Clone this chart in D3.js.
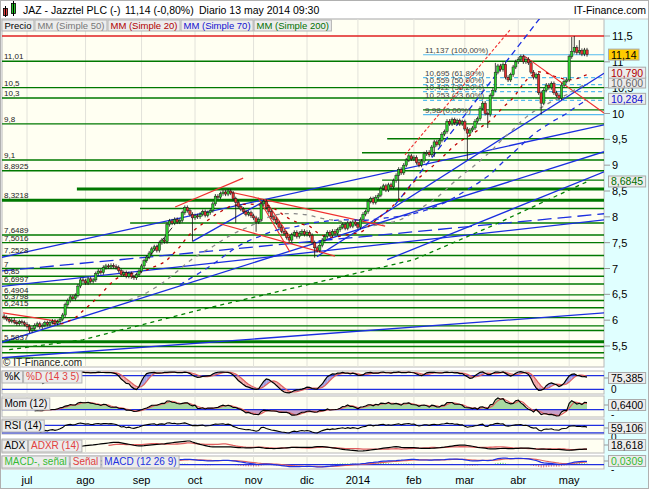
<!DOCTYPE html>
<html><head><meta charset="utf-8">
<script src="https://cdn.jsdelivr.net/npm/d3@7"></script>
<style>body{margin:0;background:#fff}svg{display:block;font-family:"Liberation Sans",Arial,sans-serif}</style>
</head><body><svg id="c" width="650" height="490"></svg>
<script>
// ---------------- DATA ----------------
const firstDay = "2013-06-18", lastDay = "2014-05-13";
const holidays = ["2013-12-25","2013-12-26","2014-01-01","2014-04-18","2014-04-21","2014-05-01"];
const monthLabels = ["jul","ago","sep","oct","nov","dic","2014","feb","mar","abr","may"];
const firstOpen = 6.08;
const closes = [
 6.05,6.02,5.98,6.00,5.96,5.93,5.97,5.95,5.92,
 5.88,5.80,5.84,5.90,5.93,5.87,5.90,5.95,5.92,5.96,5.98,5.94,5.97,
 6.02,6.10,6.30, 6.38,6.45,6.42,6.48, 6.66,6.78, 6.76,6.72,6.80,6.75,6.78,
 6.90,6.95,6.92, 7.02,7.05,7.03,7.06,7.04,7.02, 6.96,6.88,6.92,6.85,6.90,6.84,
 6.82,6.88,6.95, 7.05,7.15,7.22, 7.30,7.38,7.42,7.35, 7.50,7.55,7.52,
 7.85,7.92,7.88,7.95,7.90,7.93, 8.08,8.18,8.12, 8.05,7.98,8.02,8.00,
 8.05,8.10,8.03,8.08,8.12, 8.25,8.40,8.38, 8.45,8.48,8.44,8.50,8.46,
 8.35,8.28,8.20, 8.15,8.10,8.05,8.08,8.02, 7.98,7.90,7.95, 8.25,8.30,
 8.18,8.10,8.00,7.95,7.88, 7.80,7.72,7.68,7.60,7.55, 7.65,7.70,7.62,7.68,
 7.72,7.66,7.70,7.64, 7.50,7.40,7.35,7.45, 7.55,7.62,7.70,7.65,7.72,7.68,7.75,
 7.80,7.85,7.78,7.88,7.82,7.90,7.86,7.80, 7.95,8.05,8.10, 8.30,8.35,8.28,8.38,8.42,
 8.55,8.60,8.52,8.62,8.58, 8.70,8.80,8.92,8.85,9.00, 9.10,9.18,9.12,9.15,
 9.05,9.00,9.08, 9.22,9.25,9.20, 9.35,9.45,9.40,9.48, 9.60,9.65,
 9.85,9.80,9.88,9.82,9.86,9.80,9.84, 9.70,9.62,9.68,9.72, 9.85,9.90, 10.10,10.20,
 10.00,9.98, 10.35,10.45, 10.80,10.92,10.85,10.95, 10.70,10.65,10.75,
 10.90,11.00,11.05, 11.10,11.00,11.05,10.98, 10.80,10.70,10.75, 10.40,10.20,
 10.45,10.55,10.50,10.58, 10.40,10.35,10.30, 10.55,10.62,10.65, 11.10,
 11.20,11.28,11.18,11.22,11.15,11.23,11.14
];
const wick = 0.04;
const longLows  = [[10,5.75],[74,7.52],[91,7.88],[99,7.71],[122,7.21],[155,8.33],[169,9.16],[182,9.10],[190,9.72],[211,9.98]];
const longHighs = [[193,10.98],[223,11.48],[224,11.50],[226,11.42]];
// moving average 200 [dayIndex, price]
const mm200 = [[2,5.43],[31,5.62],[77,6.20],[116,6.65],[161,7.17],[191,7.81],[229,8.68]];
// support / resistance levels
const levels     = [11.01,10.5,10.3,10.07,9.8,9.51,9.24,9.1,8.8925,8.71,8.54,8.3218,8.16,7.88,7.6489,7.5016,7.2528,7,6.85,6.6997,6.4904,6.3798,6.2415,6.05,5.89,5.8,5.5837,5.49,5.37,5.27];
const levelLbl   = ["11,01","10,5","10,3","","9,8","","","9,1","8,8925","","","8,3218","","","7,6489","7,5016","7,2528","7","6,85","6,6997","6,4904","6,3798","6,2415","","","","5,5837","","",""];
const levelFrom  = [0,0,0,164.6,0,150.5,140.6,0,0,148.5,28.6,0,53.4,49.5,0,0,0,0,0,0,0,0,0,0,0,0,0,0,0,0];
const thickLevels = [8.54,8.3218,5.5837];
// fibonacci retracement
const fibValues = [11.137,10.695,10.559,10.422,10.253,9.98];
const fibLabels = ["11,137 (100,00%)","10,695 (61,80%)","10,559 (50,00%)","10,422 (38,20%)","10,253 (23,60%)","9,98 (0,00%)"];
const fibFrom = 164.6;
// trend lines [day1, price1, day2, price2]
const blueLines = [[-1.6,7.21,235.7,9.78],[-1.6,5.56,235.7,9.26],[122.9,7.23,235.7,10.78],[-1.6,5.27,235.7,6.14],[74.2,7.53,101.7,8.29],[150.5,7.17,235.7,8.87],[-1.6,6.65,235.7,7.94]];
const blueDashLines = [[153.6,8.23,210.6,11.85]];
const blueLongDash = [[-1.6,6.95,235.7,8.06]];
const redLines = [[-0.4,6.14,22,5.97],[67.2,8.19,93.9,8.75],[88.8,8.48,149.7,7.82],[83.7,7.88,130,7.24],[99.8,8.37,112.3,7.32],[102.5,8.33,113.1,7.55],[203.9,11.13,235.7,10.01]];
const redDashLines = [[157.5,9.20,198.8,11.62]];
const blackLines = [[55.4,7.13,66,7.79]];
// axis
const priceTicks = [11.5,11,10.5,10,9.5,9,8.5,8,7.5,7,6.5,6,5.5];
const priceTickLbl = ["11,5","11","10,5","10","9,5","9","8,5","8","7,5","7","6,5","6","5,5"];
const topLevel = 11.5;
// last values
const lastPrice = 11.14, lastPriceLbl = "11,14";
const maLast = [10.79,10.60,10.284,8.6845];
const maLastLbl = ["10,790","10,600","10,284","8,6845"];
const indLastLbl = ["75,385","0,6400","59,106","18,618","0,0309"];
const legendItems = ["Precio","MM (Simple 50)","MM (Simple 20)","MM (Simple 70)","MM (Simple 200)"];

// ---------------- SETUP ----------------
const svg = d3.select("#c");
const fmt = d3.timeFormat("%Y-%m-%d");
const dates = [];
for (let d = new Date(firstDay+"T12:00:00"); d <= new Date(lastDay+"T12:00:00"); d.setDate(d.getDate()+1)) {
  const w = d.getDay();
  if (w !== 0 && w !== 6 && !holidays.includes(fmt(d))) dates.push(new Date(d));
}
const n = closes.length;
const opens = closes.map((c,i)=> i===0 ? firstOpen : closes[i-1]);
const highs = closes.map((c,i)=> Math.max(opens[i],c)+wick);
const lows  = closes.map((c,i)=> Math.min(opens[i],c)-wick);
longLows.forEach(([k,v])=> lows[k]=v);
longHighs.forEach(([k,v])=> highs[k]=v);

const L=2, R=604, T=19, B=367;
const x = d3.scaleLinear().domain([0,229]).range([4.1,587]);
const y = d3.scaleLinear().domain([5.5,11.5]).range([346,36]);

// backgrounds
svg.append("rect").attr("width",650).attr("height",490).attr("fill","#fff");
svg.append("rect").attr("x",R).attr("y",T).attr("width",44).attr("height",470-T).attr("fill","#e0ffff");
svg.append("rect").attr("x",1).attr("y",470).attr("width",647).attr("height",18).attr("fill","#e0ffff");
const panels = [[371,394],[396,417],[419,434],[439,453],[456,469]];
svg.append("rect").attr("x",L).attr("y",T).attr("width",R-L).attr("height",B-T).attr("fill","#fffff2").attr("stroke","#b8b8b8");
panels.forEach(([a,b])=> svg.append("rect").attr("x",L).attr("y",a).attr("width",R-L).attr("height",b-a).attr("fill","#fffff2").attr("stroke","#b8b8b8"));
svg.append("rect").attr("x",0.5).attr("y",0.5).attr("width",648).attr("height",488).attr("fill","none").attr("stroke","#b0b0b0");
svg.append("line").attr("x1",1).attr("x2",648).attr("y1",T).attr("y2",T).attr("stroke","#c8c8c8");

const defs = svg.append("defs");
defs.append("clipPath").attr("id","cm").append("rect").attr("x",L).attr("y",T).attr("width",R-L).attr("height",B-T);
panels.forEach(([a,b],i)=> defs.append("clipPath").attr("id","cp"+i).append("rect").attr("x",L).attr("y",a).attr("width",R-L).attr("height",b-a));

// month grid
const monthStarts = [];
dates.forEach((d,i)=>{ if (i>0 && d.getMonth()!==dates[i-1].getMonth()) monthStarts.push(i); });
const grid = svg.append("g");
monthStarts.forEach(k=>{
  grid.append("line").attr("x1",x(k)).attr("x2",x(k)).attr("y1",T).attr("y2",B).attr("stroke","#e2e2da");
  panels.forEach(([a,b])=> grid.append("line").attr("x1",x(k)).attr("x2",x(k)).attr("y1",a).attr("y2",b).attr("stroke","#e2e2da"));
});
const mlab = svg.append("g").attr("font-size",11).attr("fill","#000").attr("text-anchor","middle");
monthStarts.forEach((k,i)=> mlab.append("text").attr("x",x(k)).attr("y",484).text(monthLabels[i]));

// ---------------- MAIN PANEL ----------------
const gm = svg.append("g").attr("clip-path","url(#cm)");
levels.forEach((v,i)=>{
  gm.append("line").attr("x1",levelFrom[i]===0?L:x(levelFrom[i])).attr("x2",R).attr("y1",y(v)).attr("y2",y(v))
    .attr("stroke","#007800").attr("stroke-width",thickLevels.includes(v)?3:1.4);
});
gm.append("line").attr("x1",L).attr("x2",R).attr("y1",y(topLevel)).attr("y2",y(topLevel)).attr("stroke","#e02020").attr("stroke-width",1.3);
fibValues.forEach((v,i)=>{
  const solid = i===0 || i===fibValues.length-1;
  gm.append("line").attr("x1",x(fibFrom)).attr("x2",R).attr("y1",y(v)).attr("y2",y(v))
    .attr("stroke","#55bbee").attr("stroke-width",1.2).attr("stroke-dasharray",solid?null:"4,3");
});
function drawSegs(list, color, width, dash){
  list.forEach(s=> gm.append("line").attr("x1",x(s[0])).attr("y1",y(s[1])).attr("x2",x(s[2])).attr("y2",y(s[3]))
    .attr("stroke",color).attr("stroke-width",width).attr("stroke-dasharray",dash));
}
drawSegs(blueLines,"#1a2ee0",1.3,null);
drawSegs(blueLongDash,"#1a2ee0",1.3,"14,6");
drawSegs(blueDashLines,"#1a2ee0",1.3,"6,4");
drawSegs(redLines,"#f03030",1.2,null);
drawSegs(redDashLines,"#f03030",1.1,"3,2");
drawSegs(blackLines,"#222",1,null);

// moving averages
function sma(arr,p){ return arr.map((v,i)=>{ if(i<p-1) return null; let s=0; for(let j=i-p+1;j<=i;j++){ if(arr[j]==null) return null; s+=arr[j]; } return s/p; }); }
const mm20 = sma(closes,20), mm50 = sma(closes,50), mm70 = sma(closes,70);
const ln = d3.line().defined(d=>d[1]!=null).x(d=>x(d[0])).y(d=>y(d[1]));
const toPts = a => a.map((v,i)=>[i,v]);
gm.append("path").attr("d",ln(mm200)).attr("fill","none").attr("stroke","#008000").attr("stroke-width",1.3).attr("stroke-dasharray","4,4");
gm.append("path").attr("d",ln(toPts(mm70))).attr("fill","none").attr("stroke","#2030e0").attr("stroke-width",1.3).attr("stroke-dasharray","5,5");
gm.append("path").attr("d",ln(toPts(mm50))).attr("fill","none").attr("stroke","#8a8a8a").attr("stroke-width",1.3).attr("stroke-dasharray","4,5");
gm.append("path").attr("d",ln(toPts(mm20))).attr("fill","none").attr("stroke","#c00000").attr("stroke-width",1.3).attr("stroke-dasharray","3,5");

// candles
const cg = gm.append("g");
closes.forEach((c,i)=>{
  const o = opens[i], up = c>=o, cx = x(i);
  cg.append("line").attr("x1",cx).attr("x2",cx).attr("y1",y(highs[i])).attr("y2",y(lows[i])).attr("stroke","#111").attr("stroke-width",0.8);
  const top = y(Math.max(o,c)), h = Math.max(1, y(Math.min(o,c))-top);
  cg.append("rect").attr("x",cx-1.2).attr("y",top).attr("width",2.4).attr("height",h)
    .attr("fill",up?"#2ecc2e":"#e03030").attr("stroke","#111").attr("stroke-width",0.45);
});

// level labels
const ll = svg.append("g").attr("font-size",8).attr("fill","#222");
levels.forEach((v,i)=>{ if(levelLbl[i]) ll.append("text").attr("x",4).attr("y",y(v)-2).text(levelLbl[i]); });
const fl = svg.append("g").attr("font-size",8).attr("fill","#444");
fibValues.forEach((v,i)=> fl.append("text").attr("x",x(fibFrom)+2).attr("y",y(v)-2).text(fibLabels[i]));
svg.append("text").attr("x",3).attr("y",366).attr("font-size",10).attr("fill","#222").text("© IT-Finance.com");

// ---------------- INDICATORS ----------------
const rawK = closes.map((c,i)=>{ if(i<13) return null; const hh=d3.max(highs.slice(i-13,i+1)), lo=d3.min(lows.slice(i-13,i+1)); return 100*(c-lo)/(hh-lo); });
const K = sma(rawK,3), D = sma(K,5);
const mom = closes.map((c,i)=> i<12?null:c-closes[i-12]);
const momSig = sma(mom,3);
const rsi = new Array(n).fill(null);
{ let ag=0, al=0; for(let i=1;i<n;i++){ const ch=closes[i]-closes[i-1], g=Math.max(ch,0), l=Math.max(-ch,0);
  if(i<=14){ ag+=g/14; al+=l/14; if(i===14) rsi[i]=100-100/(1+ag/al); }
  else { ag=(ag*13+g)/14; al=(al*13+l)/14; rsi[i]=100-100/(1+ag/(al||1e-9)); } } }
const adx = new Array(n).fill(null), adxr = new Array(n).fill(null);
{ let tr14=0,p14=0,m14=0,ax=null; const dx=[];
  for(let i=1;i<n;i++){
    const tr=Math.max(highs[i]-lows[i],Math.abs(highs[i]-closes[i-1]),Math.abs(lows[i]-closes[i-1]));
    const up=highs[i]-highs[i-1], dn=lows[i-1]-lows[i];
    const pdm=(up>dn&&up>0)?up:0, mdm=(dn>up&&dn>0)?dn:0;
    if(i<=14){ tr14+=tr; p14+=pdm; m14+=mdm; } else { tr14=tr14-tr14/14+tr; p14=p14-p14/14+pdm; m14=m14-m14/14+mdm; }
    if(i>=14){ const pdi=100*p14/tr14, mdi=100*m14/tr14; const v=100*Math.abs(pdi-mdi)/(pdi+mdi||1e-9); dx.push(v);
      if(dx.length===14){ ax=d3.mean(dx); adx[i]=ax; } else if(dx.length>14){ ax=(ax*13+v)/14; adx[i]=ax; } }
  }
  for(let i=14;i<n;i++) if(adx[i]!=null&&adx[i-14]!=null) adxr[i]=(adx[i]+adx[i-14])/2;
}
function ema(arr,p){ const k=2/(p+1); let e=null; return arr.map((v,i)=>{ if(v==null) return null; e = e==null? v : v*k+e*(1-k); return e; }); }
const e12=ema(closes,12), e26=ema(closes,26);
const macd = closes.map((c,i)=> i<25?null:e12[i]-e26[i]);
const sig = ema(macd,9).map((v,i)=> i<33?null:v);
const hist = macd.map((v,i)=> sig[i]==null?null:v-sig[i]);

function panelLine(g, ys, arr, color, w){
  g.append("path").attr("d", d3.line().defined(d=>d[1]!=null).x(d=>x(d[0])).y(d=>ys(d[1]))(toPts(arr)))
   .attr("fill","none").attr("stroke",color).attr("stroke-width",w||1.2);
}
{ const [a,b]=panels[0]; const ys=d3.scaleLinear().domain([0,100]).range([b,a]); const g=svg.append("g").attr("clip-path","url(#cp0)");
  for(let i=0;i<n-1;i++){ if(K[i]==null||D[i]==null||K[i+1]==null||D[i+1]==null) continue;
    g.append("path").attr("d",`M${x(i)},${ys(K[i])}L${x(i+1)},${ys(K[i+1])}L${x(i+1)},${ys(D[i+1])}L${x(i)},${ys(D[i])}Z`)
     .attr("fill",K[i]>=D[i]?"#a0a0e8":"#f0a8a8"); }
  [80,20].forEach(v=> g.append("line").attr("x1",L).attr("x2",R).attr("y1",ys(v)).attr("y2",ys(v)).attr("stroke","#2030e0").attr("stroke-width",1.3));
  panelLine(g,ys,D,"#e06060",1.2); panelLine(g,ys,K,"#000",1.2);
}
{ const [a,b]=panels[1]; const ext=d3.extent(mom.filter(v=>v!=null)); const ys=d3.scaleLinear().domain(ext).range([b-1,a+2]); const g=svg.append("g").attr("clip-path","url(#cp1)");
  const ar = d3.area().defined(d=>d[1]!=null).x(d=>x(d[0])).y0(ys(0));
  g.append("path").attr("d",ar.y1(d=>ys(Math.max(d[1],0)))(toPts(mom))).attr("fill","#a8d8a0");
  g.append("path").attr("d",ar.y1(d=>ys(Math.min(d[1],0)))(toPts(mom))).attr("fill","#c8a0c8");
  g.append("line").attr("x1",L).attr("x2",R).attr("y1",ys(0)).attr("y2",ys(0)).attr("stroke","#2030e0").attr("stroke-width",1.3);
  panelLine(g,ys,momSig,"#e06060",1.2); panelLine(g,ys,mom,"#000",1.1);
}
{ const [a,b]=panels[2]; const ys=d3.scaleLinear().domain([24,104]).range([b,a]); const g=svg.append("g").attr("clip-path","url(#cp2)");
  [70,30].forEach(v=> g.append("line").attr("x1",L).attr("x2",R).attr("y1",ys(v)).attr("y2",ys(v)).attr("stroke","#2030e0").attr("stroke-width",1.3));
  panelLine(g,ys,rsi,"#000",1.1);
}
{ const [a,b]=panels[3]; const ext=d3.extent(adx.filter(v=>v!=null)); const ys=d3.scaleLinear().domain(ext).range([b-2,a+2]); const g=svg.append("g").attr("clip-path","url(#cp3)");
  panelLine(g,ys,adxr,"#e06060",1.3); panelLine(g,ys,adx,"#000",1.2);
}
{ const [a,b]=panels[4]; const vals=macd.concat(sig).filter(v=>v!=null).concat([0]); const ys=d3.scaleLinear().domain(d3.extent(vals)).range([b-2,a+2]); const g=svg.append("g").attr("clip-path","url(#cp4)");
  const hs = d3.scaleLinear().domain([0,d3.max(hist,v=>v==null?0:Math.abs(v))]).range([0,3]);
  hist.forEach((v,i)=>{ if(v==null) return; g.append("line").attr("x1",x(i)).attr("x2",x(i)).attr("y1",ys(0)).attr("y2",ys(0)-(v>=0?1:-1)*hs(Math.abs(v))).attr("stroke",v>=0?"#33cc33":"#e05050").attr("stroke-width",0.8); });
  g.append("line").attr("x1",L).attr("x2",R).attr("y1",ys(0)).attr("y2",ys(0)).attr("stroke","#2030e0").attr("stroke-width",1.3);
  panelLine(g,ys,sig,"#e06060",1.2); panelLine(g,ys,macd,"#2030e0",1.2);
}

function labelBox(xx, yy, txt, color, fs, h){
  const g = svg.append("g");
  const t = g.append("text").attr("x",xx+2.5).attr("y",yy+9).attr("font-size",fs||10).attr("fill",color).text(txt);
  const w = t.node().getComputedTextLength();
  g.insert("rect","text").attr("x",xx).attr("y",yy).attr("width",w+5).attr("height",h||12).attr("fill","#ececec").attr("stroke","#b4b4b4");
  return xx+w+6;
}
{ let xx=labelBox(L,371,"%K","#000"); labelBox(xx,371,"%D (14 3 5)","#e04040"); }
labelBox(L,398,"Mom (12)","#000");
labelBox(L,420,"RSI (14)","#000");
{ let xx=labelBox(L,440,"ADX","#000"); labelBox(xx,440,"ADXR (14)","#e04040"); }
{ let xx=labelBox(L,456,"MACD-, señal","#33bb33"); xx=labelBox(xx,456,"Señal","#e04040"); labelBox(xx,456,"MACD (12 26 9)","#2030e0"); }

// legend
{ const cols=["#000","#777","#b00000","#1010d0","#007000"]; let xx=L;
  legendItems.forEach((t,i)=>{ xx = labelBox(xx,20,t,cols[i],9.5,11); });
}

// header
svg.append("g").call(g=>{
  g.append("rect").attr("x",3.5).attr("y",8.5).attr("width",4).attr("height",7).attr("fill","#e04040").attr("stroke","#000").attr("stroke-width",0.8);
  g.append("line").attr("x1",5.5).attr("x2",5.5).attr("y1",6).attr("y2",17).attr("stroke","#000");
  g.append("rect").attr("x",11.5).attr("y",3.5).attr("width",4).attr("height",10).attr("fill","#22cc22").attr("stroke","#000").attr("stroke-width",0.8);
  g.append("line").attr("x1",13.5).attr("x2",13.5).attr("y1",1).attr("y2",16).attr("stroke","#000");
});
svg.append("text").attr("x",23).attr("y",14).attr("font-size",10.5).text("JAZ - Jazztel PLC (-)");
svg.append("text").attr("x",125).attr("y",14).attr("font-size",10.5).text("11,14 (-0,80%)");
svg.append("text").attr("x",199).attr("y",14).attr("font-size",10.5).text("Diario  13 may 2014 09:30");
svg.append("text").attr("x",646).attr("y",14).attr("font-size",10.5).attr("text-anchor","end").text("IT-Finance.com");

// right axis
const ax = svg.append("g").attr("font-size",11);
priceTicks.forEach((v,i)=>{
  ax.append("line").attr("x1",R).attr("x2",R+6).attr("y1",y(v)).attr("y2",y(v)).attr("stroke","#999");
  ax.append("text").attr("x",R+8).attr("y",y(v)+4).text(priceTickLbl[i]);
});
function valBox(v, txt, color, bg, ys){
  const yy = ys(v);
  const g = svg.append("g");
  const t = g.append("text").attr("x",R+7).attr("y",yy+4).attr("font-size",10.5).attr("fill",color).text(txt);
  const w = t.node().getComputedTextLength();
  g.insert("rect","text").attr("x",R+4.5).attr("y",yy-5.5).attr("width",w+5).attr("height",11).attr("fill",bg).attr("stroke","#aaa");
}
[[389,"0"],[414,"-"],[437,"0"],[469,"-"]].forEach(([yy,t])=> svg.append("text").attr("x",R+7).attr("y",yy+4).attr("font-size",10).text(t));
valBox(maLast[3],maLastLbl[3],"#007000","#ececec",y);
valBox(maLast[2],maLastLbl[2],"#1010d0","#ececec",y);
valBox(maLast[1],maLastLbl[1],"#666","#ececec",y);
valBox(maLast[0],maLastLbl[0],"#b00000","#ececec",y);
valBox(lastPrice,lastPriceLbl,"#000","#ffcc00",y);
const indY = [378,405,428,445,461];
const indCol = ["#000","#000","#000","#000","#33bb33"];
indY.forEach((yy,i)=>{
  svg.append("line").attr("x1",R).attr("x2",R+4).attr("y1",yy).attr("y2",yy).attr("stroke","#999");
  valBox(yy,indLastLbl[i],indCol[i],"#ececec",v=>v);
});
</script></body></html>
